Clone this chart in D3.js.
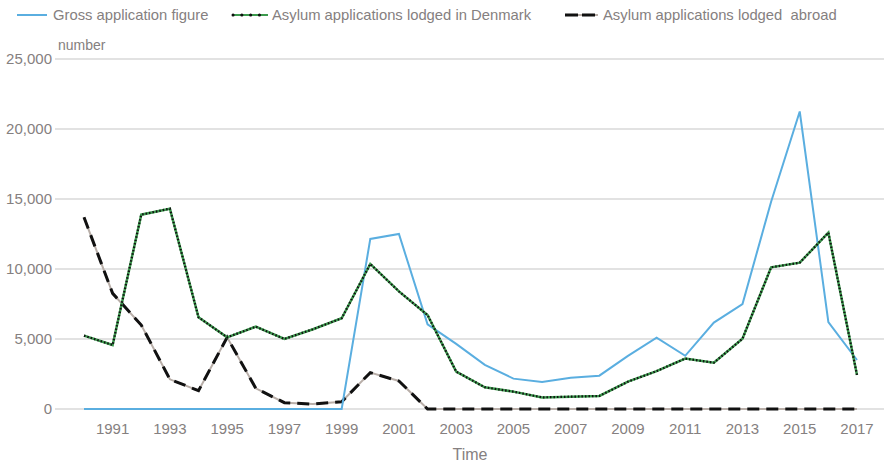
<!DOCTYPE html>
<html><head><meta charset="utf-8">
<script src="https://cdn.jsdelivr.net/npm/d3@7"></script>
<style>body{margin:0;background:#fff}text{font-family:"Liberation Sans",Arial,sans-serif}</style>
</head><body><svg id="c" width="887" height="465"></svg>
<script>
const years = d3.range(1990, 2018);
const gross = [0,0,0,0,0,0,0,0,0,0,12150,12500,6050,4650,3150,2170,1930,2240,2380,3790,5100,3800,6170,7500,14800,21250,6210,3500];
const denmark = [5240,4570,13880,14310,6550,5120,5880,5000,5700,6480,10360,8400,6710,2670,1550,1240,830,880,930,1950,2710,3600,3310,5020,10120,10450,12600,2430];
const abroad = [13690,8260,6000,2120,1310,5120,1480,450,350,520,2600,2000,0,0,0,0,0,0,0,0,0,0,0,0,0,0,0,0];
const yTicks = [0,5000,10000,15000,20000,25000];
const xTickYears = years.filter(y => y % 2 === 1);
const legendLabels = ["Gross application figure","Asylum applications lodged in Denmark","Asylum applications lodged  abroad"];

const svg = d3.select("#c");
const x = d3.scalePoint().domain(years).range([84, 857]);
const y = d3.scaleLinear().domain([0,25000]).range([409, 59]);
const grey = "#858080";

svg.append("g").selectAll("line").data(yTicks).join("line")
  .attr("x1",55).attr("x2",884).attr("y1",d=>y(d)).attr("y2",d=>y(d))
  .attr("stroke","#d9d9d9").attr("stroke-width",1.5);
svg.append("g").selectAll("text").data(yTicks).join("text")
  .attr("x",52).attr("y",d=>y(d)+5).attr("text-anchor","end")
  .attr("font-size",15).attr("fill",grey).text(d=>d3.format(",")(d));
svg.append("g").selectAll("text").data(xTickYears).join("text")
  .attr("x",d=>x(d)).attr("y",434).attr("text-anchor","middle")
  .attr("font-size",15).attr("fill",grey).text(d=>d);
svg.append("text").attr("x",470).attr("y",460).attr("text-anchor","middle")
  .attr("font-size",16).attr("fill",grey).text("Time");
svg.append("text").attr("x",58).attr("y",50).attr("font-size",14).attr("fill",grey).text("number");

const line = d3.line().x((d,i)=>x(years[i])).y(d=>y(d));

svg.append("path").datum(abroad).attr("d",line).attr("fill","none")
  .attr("stroke","#b8aea8").attr("stroke-width",2);
svg.append("path").datum(abroad).attr("d",line).attr("fill","none")
  .attr("stroke","#111").attr("stroke-width",3).attr("stroke-dasharray","12,7");
svg.append("path").datum(gross).attr("d",line).attr("fill","none")
  .attr("stroke","#5aaee0").attr("stroke-width",2);
svg.append("path").datum(denmark).attr("d",line).attr("fill","none")
  .attr("stroke","#3c9a4e").attr("stroke-width",2.5);
svg.append("path").datum(denmark).attr("d",line).attr("fill","none")
  .attr("stroke","#111").attr("stroke-width",2.2).attr("stroke-dasharray","1.5,2");

const lg = svg.append("g");
lg.append("line").attr("x1",17).attr("x2",47).attr("y1",15).attr("y2",15).attr("stroke","#5aaee0").attr("stroke-width",2);
lg.append("text").attr("x",53).attr("y",20).attr("font-size",14.8).attr("fill",grey).text(legendLabels[0]);
lg.append("line").attr("x1",233).attr("x2",268).attr("y1",15).attr("y2",15).attr("stroke","#3c9a4e").attr("stroke-width",2);
lg.append("line").attr("x1",233).attr("x2",268).attr("y1",15).attr("y2",15).attr("stroke","#111").attr("stroke-width",3).attr("stroke-linecap","round").attr("stroke-dasharray","0.1,8.7");
lg.append("text").attr("x",272).attr("y",20).attr("font-size",14.8).attr("fill",grey).text(legendLabels[1]);
lg.append("line").attr("x1",565).attr("x2",598).attr("y1",15).attr("y2",15).attr("stroke","#b8aea8").attr("stroke-width",2);
lg.append("line").attr("x1",565).attr("x2",598).attr("y1",15).attr("y2",15).attr("stroke","#111").attr("stroke-width",3).attr("stroke-dasharray","13,4");
lg.append("text").attr("x",603).attr("y",20).attr("font-size",14.8).attr("fill",grey).style("white-space","pre").text(legendLabels[2]);
</script></body></html>
